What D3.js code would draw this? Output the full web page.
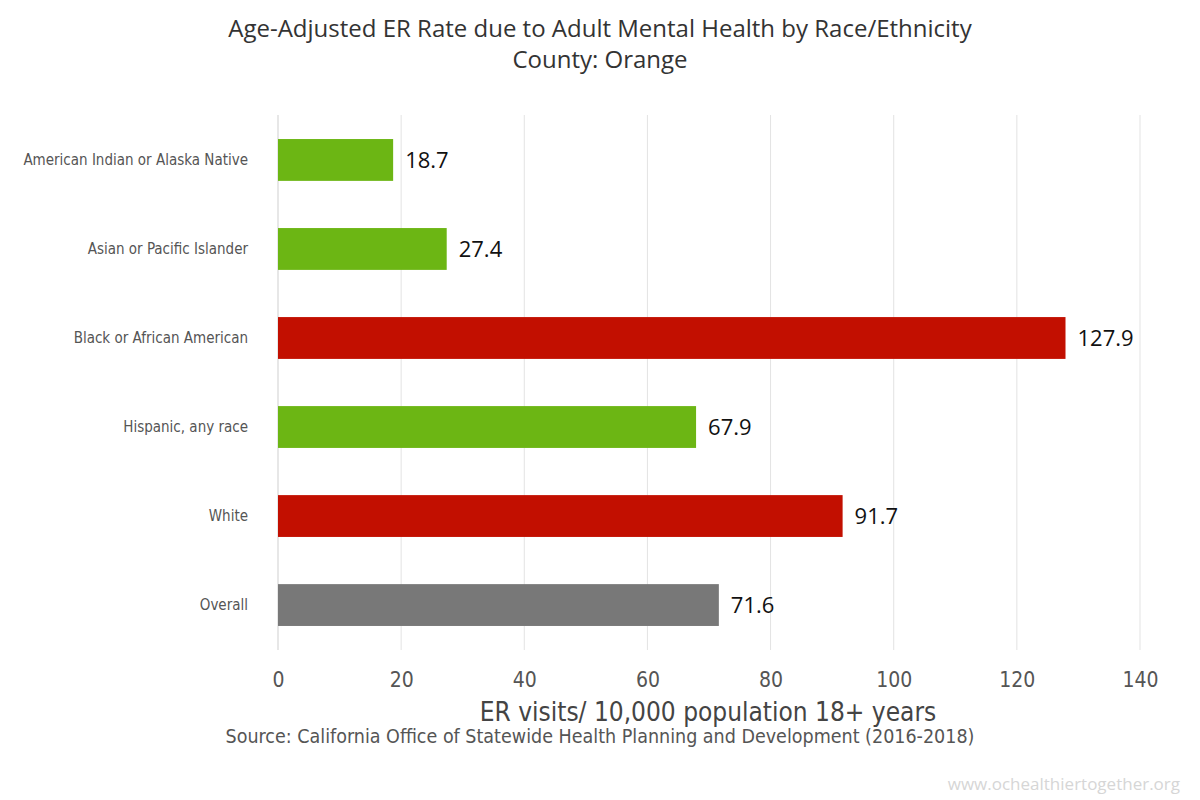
<!DOCTYPE html>
<html>
<head>
<meta charset="utf-8">
<script src="https://cdn.jsdelivr.net/npm/d3@7"></script>
<style>
  body { margin: 0; background: #fff; }
  svg { font-family: "Open Sans", sans-serif; }
</style>
</head>
<body>
<svg id="chart" width="1200" height="800"></svg>
<script>
// data
var categories = ["American Indian or Alaska Native", "Asian or Pacific Islander",
    "Black or African American", "Hispanic, any race", "White", "Overall"];
var values = [18.7, 27.4, 127.9, 67.9, 91.7, 71.6];
var barStatus = ["better", "better", "worse", "better", "worse", "overall"];
var xTicks = [0, 20, 40, 60, 80, 100, 120, 140];

var colors = { better: "#6cb614", worse: "#c20f00", overall: "#787878" };
var condensed = "'DejaVu Sans Condensed', 'DejaVu Sans', sans-serif";

var m = { top: 115, right: 60, bottom: 150, left: 278 },
    W = 1200, H = 800,
    w = W - m.left - m.right,
    h = H - m.top - m.bottom;

var svg = d3.select("#chart");
var g = svg.append("g")
    .attr("transform", "translate(" + m.left + "," + m.top + ")");

var x = d3.scaleLinear().domain([0, 140]).range([0, 862]);
var y = d3.scaleBand().domain(categories).range([0, h]).paddingInner(0.53).paddingOuter(0.27);

// gridlines
g.selectAll(".grid")
    .data(xTicks.slice(1))
    .enter()
    .append("line")
    .attr("x1", function(d) { return x(d); })
    .attr("x2", function(d) { return x(d); })
    .attr("y1", 0)
    .attr("y2", h)
    .attr("stroke", "#e3e3e3")
    .attr("stroke-width", 1);

g.append("line")
    .attr("x1", 0).attr("x2", 0)
    .attr("y1", 0).attr("y2", h)
    .attr("stroke", "#cfcfcf");

// bars
g.selectAll(".bar")
    .data(values)
    .enter()
    .append("rect")
    .attr("x", 0)
    .attr("y", function(d, i) { return y(categories[i]); })
    .attr("width", function(d) { return x(d); })
    .attr("height", y.bandwidth())
    .attr("fill", function(d, i) { return colors[barStatus[i]]; });

g.selectAll(".val")
    .data(values)
    .enter()
    .append("text")
    .attr("x", function(d) { return x(d) + 12; })
    .attr("y", function(d, i) { return y(categories[i]) + y.bandwidth() / 2; })
    .attr("dy", ".35em")
    .attr("font-size", 22)
    .attr("fill", "#111")
    .text(function(d) { return d.toFixed(1); });

// category labels
var yAxis = g.append("g")
    .call(d3.axisLeft(y).tickSize(0).tickPadding(30));
yAxis.select(".domain").remove();
yAxis.selectAll("text")
    .attr("font-family", condensed)
    .attr("font-size", 15)
    .attr("fill", "#555");

// x axis labels
var xAxis = g.append("g")
    .attr("transform", "translate(0," + h + ")")
    .call(d3.axisBottom(x).tickValues(xTicks).tickSize(0).tickPadding(22));
xAxis.select(".domain").remove();
xAxis.selectAll("text")
    .attr("font-family", condensed)
    .attr("font-size", 21)
    .attr("fill", "#555");

svg.append("text")
    .attr("x", 708).attr("y", 721)
    .attr("text-anchor", "middle")
    .attr("font-family", condensed)
    .attr("font-size", 26)
    .attr("fill", "#444")
    .text("ER visits/ 10,000 population 18+ years");

svg.append("text")
    .attr("x", 600).attr("y", 743)
    .attr("text-anchor", "middle")
    .attr("font-family", condensed)
    .attr("font-size", 19.5)
    .attr("fill", "#555")
    .text("Source: California Office of Statewide Health Planning and Development (2016-2018)");

// title
svg.append("text")
    .attr("x", 600).attr("y", 37)
    .attr("text-anchor", "middle")
    .attr("font-size", 24)
    .attr("fill", "#333")
    .text("Age-Adjusted ER Rate due to Adult Mental Health by Race/Ethnicity");
svg.append("text")
    .attr("x", 600).attr("y", 68)
    .attr("text-anchor", "middle")
    .attr("font-size", 24)
    .attr("fill", "#333")
    .text("County: Orange");

// watermark
svg.append("text")
    .attr("x", 1180).attr("y", 790)
    .attr("text-anchor", "end")
    .attr("font-size", 17)
    .attr("fill", "#d6d6d6")
    .text("www.ochealthiertogether.org");
</script>
</body>
</html>
